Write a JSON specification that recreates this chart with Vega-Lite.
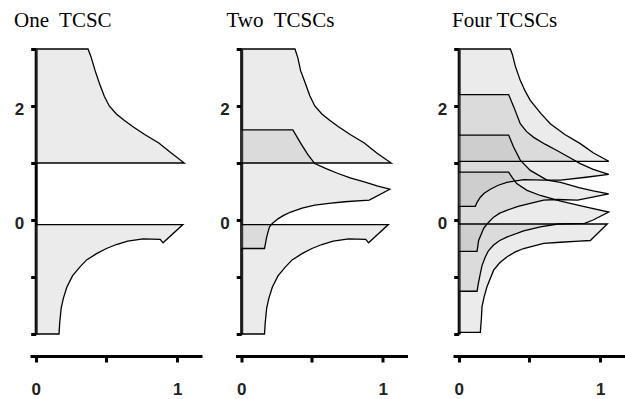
{
  "$schema": "https://vega.github.io/schema/vega-lite/v6.json",
  "background": "white",
  "padding": {"left": 14, "top": 9, "right": 0, "bottom": 2},
  "config": {
    "view": {"stroke": null},
    "axis": {
      "domainColor": "black", "domainWidth": 3, "tickColor": "black", "tickWidth": 3,
      "labelFont": "Liberation Sans", "labelFontWeight": "bold", "labelFontSize": 17, "labelColor": "#222",
      "grid": false, "title": null, "zindex": 1
    },
    "title": {"font": "Liberation Serif", "fontSize": 21, "fontWeight": "normal", "color": "black", "anchor": "start", "frame": "group", "baseline": "alphabetic", "offset": 15.5}
  },
  "datasets": {
    "p1": [
      {"r": "U", "i": 0, "x": 0, "y": 3}, {"r": "U", "i": 1, "x": 0.37, "y": 3}, {"r": "U", "i": 2, "x": 0.39, "y": 2.87},
      {"r": "U", "i": 3, "x": 0.42, "y": 2.62}, {"r": "U", "i": 4, "x": 0.45, "y": 2.4}, {"r": "U", "i": 5, "x": 0.485, "y": 2.17},
      {"r": "U", "i": 6, "x": 0.52, "y": 2.0}, {"r": "U", "i": 7, "x": 0.57, "y": 1.86}, {"r": "U", "i": 8, "x": 0.625, "y": 1.75},
      {"r": "U", "i": 9, "x": 0.685, "y": 1.64}, {"r": "U", "i": 10, "x": 0.77, "y": 1.5}, {"r": "U", "i": 11, "x": 0.87, "y": 1.35},
      {"r": "U", "i": 12, "x": 0.96, "y": 1.17}, {"r": "U", "i": 13, "x": 1.05, "y": 1.0}, {"r": "U", "i": 14, "x": 0, "y": 1.0},
      {"r": "L", "i": 0, "x": 0, "y": -0.08}, {"r": "L", "i": 1, "x": 1.04, "y": -0.08}, {"r": "L", "i": 2, "x": 0.9, "y": -0.4},
      {"r": "L", "i": 3, "x": 0.88, "y": -0.34}, {"r": "L", "i": 4, "x": 0.76, "y": -0.33}, {"r": "L", "i": 5, "x": 0.65, "y": -0.37},
      {"r": "L", "i": 6, "x": 0.57, "y": -0.43}, {"r": "L", "i": 7, "x": 0.5, "y": -0.5}, {"r": "L", "i": 8, "x": 0.43, "y": -0.59},
      {"r": "L", "i": 9, "x": 0.36, "y": -0.7}, {"r": "L", "i": 10, "x": 0.31, "y": -0.83}, {"r": "L", "i": 11, "x": 0.26, "y": -0.98},
      {"r": "L", "i": 12, "x": 0.22, "y": -1.18}, {"r": "L", "i": 13, "x": 0.195, "y": -1.38}, {"r": "L", "i": 14, "x": 0.18, "y": -1.55},
      {"r": "L", "i": 15, "x": 0.17, "y": -1.8}, {"r": "L", "i": 16, "x": 0.165, "y": -2.0}, {"r": "L", "i": 17, "x": 0, "y": -2.0}
    ],
    "p2": [
      {"r": "A", "i": 0, "x": 0, "y": 3}, {"r": "A", "i": 1, "x": 0.38, "y": 3}, {"r": "A", "i": 2, "x": 0.4, "y": 2.85},
      {"r": "A", "i": 3, "x": 0.42, "y": 2.62}, {"r": "A", "i": 4, "x": 0.45, "y": 2.42}, {"r": "A", "i": 5, "x": 0.485, "y": 2.18},
      {"r": "A", "i": 6, "x": 0.52, "y": 2.0}, {"r": "A", "i": 7, "x": 0.57, "y": 1.86}, {"r": "A", "i": 8, "x": 0.625, "y": 1.75},
      {"r": "A", "i": 9, "x": 0.685, "y": 1.64}, {"r": "A", "i": 10, "x": 0.77, "y": 1.5}, {"r": "A", "i": 11, "x": 0.87, "y": 1.35},
      {"r": "A", "i": 12, "x": 0.96, "y": 1.17}, {"r": "A", "i": 13, "x": 1.06, "y": 1.0}, {"r": "A", "i": 14, "x": 0, "y": 1.0},
      {"r": "B", "i": 0, "x": 0, "y": 1.58}, {"r": "B", "i": 1, "x": 0.365, "y": 1.58}, {"r": "B", "i": 2, "x": 0.42, "y": 1.35},
      {"r": "B", "i": 3, "x": 0.47, "y": 1.15}, {"r": "B", "i": 4, "x": 0.52, "y": 0.99}, {"r": "B", "i": 5, "x": 0.6, "y": 0.9},
      {"r": "B", "i": 6, "x": 0.68, "y": 0.82}, {"r": "B", "i": 7, "x": 0.77, "y": 0.74}, {"r": "B", "i": 8, "x": 0.87, "y": 0.67},
      {"r": "B", "i": 9, "x": 0.96, "y": 0.6}, {"r": "B", "i": 10, "x": 1.05, "y": 0.54}, {"r": "B", "i": 11, "x": 0.905, "y": 0.35},
      {"r": "B", "i": 12, "x": 0.73, "y": 0.32}, {"r": "B", "i": 13, "x": 0.62, "y": 0.29}, {"r": "B", "i": 14, "x": 0.52, "y": 0.26},
      {"r": "B", "i": 15, "x": 0.43, "y": 0.21}, {"r": "B", "i": 16, "x": 0.35, "y": 0.14}, {"r": "B", "i": 17, "x": 0.3, "y": 0.08},
      {"r": "B", "i": 18, "x": 0.26, "y": 0.02}, {"r": "B", "i": 19, "x": 0.22, "y": -0.06}, {"r": "B", "i": 20, "x": 0.2, "y": -0.12},
      {"r": "B", "i": 21, "x": 0.18, "y": -0.3}, {"r": "B", "i": 22, "x": 0.165, "y": -0.5}, {"r": "B", "i": 23, "x": 0, "y": -0.5},
      {"r": "C", "i": 0, "x": 0, "y": -0.08}, {"r": "C", "i": 1, "x": 1.04, "y": -0.08}, {"r": "C", "i": 2, "x": 0.9, "y": -0.4},
      {"r": "C", "i": 3, "x": 0.88, "y": -0.34}, {"r": "C", "i": 4, "x": 0.76, "y": -0.33}, {"r": "C", "i": 5, "x": 0.65, "y": -0.37},
      {"r": "C", "i": 6, "x": 0.57, "y": -0.43}, {"r": "C", "i": 7, "x": 0.5, "y": -0.5}, {"r": "C", "i": 8, "x": 0.43, "y": -0.59},
      {"r": "C", "i": 9, "x": 0.36, "y": -0.7}, {"r": "C", "i": 10, "x": 0.31, "y": -0.83}, {"r": "C", "i": 11, "x": 0.26, "y": -0.98},
      {"r": "C", "i": 12, "x": 0.22, "y": -1.18}, {"r": "C", "i": 13, "x": 0.195, "y": -1.38}, {"r": "C", "i": 14, "x": 0.18, "y": -1.55},
      {"r": "C", "i": 15, "x": 0.17, "y": -1.8}, {"r": "C", "i": 16, "x": 0.165, "y": -2.0}, {"r": "C", "i": 17, "x": 0, "y": -2.0}
    ],
    "p4": [
      {"r": "R1", "i": 0, "x": 0, "y": 3}, {"r": "R1", "i": 1, "x": 0.365, "y": 3}, {"r": "R1", "i": 2, "x": 0.38, "y": 2.9},
      {"r": "R1", "i": 3, "x": 0.4, "y": 2.7}, {"r": "R1", "i": 4, "x": 0.435, "y": 2.45}, {"r": "R1", "i": 5, "x": 0.47, "y": 2.26},
      {"r": "R1", "i": 6, "x": 0.506, "y": 2.1}, {"r": "R1", "i": 7, "x": 0.58, "y": 1.87}, {"r": "R1", "i": 8, "x": 0.647, "y": 1.69},
      {"r": "R1", "i": 9, "x": 0.75, "y": 1.5}, {"r": "R1", "i": 10, "x": 0.859, "y": 1.34}, {"r": "R1", "i": 11, "x": 0.95, "y": 1.18},
      {"r": "R1", "i": 12, "x": 1.06, "y": 1.03}, {"r": "R1", "i": 13, "x": 0, "y": 1.03},
      {"r": "R2", "i": 0, "x": 0, "y": 2.2}, {"r": "R2", "i": 1, "x": 0.353, "y": 2.2}, {"r": "R2", "i": 2, "x": 0.39, "y": 1.98},
      {"r": "R2", "i": 3, "x": 0.435, "y": 1.69}, {"r": "R2", "i": 4, "x": 0.48, "y": 1.55}, {"r": "R2", "i": 5, "x": 0.53, "y": 1.45},
      {"r": "R2", "i": 6, "x": 0.61, "y": 1.33}, {"r": "R2", "i": 7, "x": 0.694, "y": 1.22}, {"r": "R2", "i": 8, "x": 0.78, "y": 1.1},
      {"r": "R2", "i": 9, "x": 0.859, "y": 0.99}, {"r": "R2", "i": 10, "x": 0.95, "y": 0.89}, {"r": "R2", "i": 11, "x": 1.06, "y": 0.8},
      {"r": "R2", "i": 12, "x": 0.9, "y": 0.75}, {"r": "R2", "i": 13, "x": 0.72, "y": 0.7}, {"r": "R2", "i": 14, "x": 0.6, "y": 0.7},
      {"r": "R2", "i": 15, "x": 0.46, "y": 0.71}, {"r": "R2", "i": 16, "x": 0.34, "y": 0.66}, {"r": "R2", "i": 17, "x": 0.28, "y": 0.61},
      {"r": "R2", "i": 18, "x": 0.224, "y": 0.54}, {"r": "R2", "i": 19, "x": 0.18, "y": 0.47}, {"r": "R2", "i": 20, "x": 0.153, "y": 0.4},
      {"r": "R2", "i": 21, "x": 0.13, "y": 0.31}, {"r": "R2", "i": 22, "x": 0.118, "y": 0.24}, {"r": "R2", "i": 23, "x": 0, "y": 0.24},
      {"r": "R3", "i": 0, "x": 0, "y": 1.49}, {"r": "R3", "i": 1, "x": 0.353, "y": 1.49}, {"r": "R3", "i": 2, "x": 0.388, "y": 1.28},
      {"r": "R3", "i": 3, "x": 0.435, "y": 1.05}, {"r": "R3", "i": 4, "x": 0.506, "y": 0.87}, {"r": "R3", "i": 5, "x": 0.624, "y": 0.7},
      {"r": "R3", "i": 6, "x": 0.72, "y": 0.66}, {"r": "R3", "i": 7, "x": 0.85, "y": 0.57}, {"r": "R3", "i": 8, "x": 0.95, "y": 0.51},
      {"r": "R3", "i": 9, "x": 1.06, "y": 0.46}, {"r": "R3", "i": 10, "x": 0.84, "y": 0.35}, {"r": "R3", "i": 11, "x": 0.7, "y": 0.36},
      {"r": "R3", "i": 12, "x": 0.6, "y": 0.35}, {"r": "R3", "i": 13, "x": 0.506, "y": 0.29}, {"r": "R3", "i": 14, "x": 0.42, "y": 0.24},
      {"r": "R3", "i": 15, "x": 0.34, "y": 0.17}, {"r": "R3", "i": 16, "x": 0.29, "y": 0.12}, {"r": "R3", "i": 17, "x": 0.247, "y": 0.05},
      {"r": "R3", "i": 18, "x": 0.2, "y": -0.07}, {"r": "R3", "i": 19, "x": 0.176, "y": -0.15}, {"r": "R3", "i": 20, "x": 0.141, "y": -0.36},
      {"r": "R3", "i": 21, "x": 0.13, "y": -0.55}, {"r": "R3", "i": 22, "x": 0, "y": -0.55},
      {"r": "R4", "i": 0, "x": 0, "y": 0.84}, {"r": "R4", "i": 1, "x": 0.353, "y": 0.84}, {"r": "R4", "i": 2, "x": 0.38, "y": 0.74},
      {"r": "R4", "i": 3, "x": 0.41, "y": 0.64}, {"r": "R4", "i": 4, "x": 0.483, "y": 0.52}, {"r": "R4", "i": 5, "x": 0.577, "y": 0.43},
      {"r": "R4", "i": 6, "x": 0.72, "y": 0.33}, {"r": "R4", "i": 7, "x": 0.88, "y": 0.24}, {"r": "R4", "i": 8, "x": 1.06, "y": 0.14},
      {"r": "R4", "i": 9, "x": 0.95, "y": 0.0}, {"r": "R4", "i": 10, "x": 0.89, "y": -0.06}, {"r": "R4", "i": 11, "x": 0.7, "y": -0.07},
      {"r": "R4", "i": 12, "x": 0.577, "y": -0.12}, {"r": "R4", "i": 13, "x": 0.459, "y": -0.19}, {"r": "R4", "i": 14, "x": 0.34, "y": -0.3},
      {"r": "R4", "i": 15, "x": 0.29, "y": -0.36}, {"r": "R4", "i": 16, "x": 0.247, "y": -0.44}, {"r": "R4", "i": 17, "x": 0.21, "y": -0.54},
      {"r": "R4", "i": 18, "x": 0.188, "y": -0.65}, {"r": "R4", "i": 19, "x": 0.165, "y": -0.8}, {"r": "R4", "i": 20, "x": 0.153, "y": -0.94},
      {"r": "R4", "i": 21, "x": 0.14, "y": -1.1}, {"r": "R4", "i": 22, "x": 0.13, "y": -1.25}, {"r": "R4", "i": 23, "x": 0, "y": -1.25},
      {"r": "R5", "i": 0, "x": 0, "y": -0.07}, {"r": "R5", "i": 1, "x": 1.05, "y": -0.07}, {"r": "R5", "i": 2, "x": 0.93, "y": -0.36},
      {"r": "R5", "i": 3, "x": 0.85, "y": -0.37}, {"r": "R5", "i": 4, "x": 0.72, "y": -0.39}, {"r": "R5", "i": 5, "x": 0.6, "y": -0.41},
      {"r": "R5", "i": 6, "x": 0.459, "y": -0.5}, {"r": "R5", "i": 7, "x": 0.4, "y": -0.56}, {"r": "R5", "i": 8, "x": 0.34, "y": -0.65},
      {"r": "R5", "i": 9, "x": 0.29, "y": -0.75}, {"r": "R5", "i": 10, "x": 0.247, "y": -0.88}, {"r": "R5", "i": 11, "x": 0.2, "y": -1.17},
      {"r": "R5", "i": 12, "x": 0.18, "y": -1.35}, {"r": "R5", "i": 13, "x": 0.165, "y": -1.52}, {"r": "R5", "i": 14, "x": 0.16, "y": -1.75},
      {"r": "R5", "i": 15, "x": 0.153, "y": -1.97}, {"r": "R5", "i": 16, "x": 0, "y": -1.97}
    ]
  },
  "hconcat": [
    {
      "hconcat": [
        {
          "width": 172, "height": 285,
          "title": {"text": "One\u00a0 TCSC", "dx": -16},
          "encoding": {
            "x": {"field": "x", "type": "quantitative", "scale": {"domain": [-0.04, 1.175], "nice": false, "zero": false},
                  "axis": {"values": [0, 0.5, 1], "labelExpr": "datum.value == 0 ? '0' : datum.value == 1 ? '1' : ''", "offset": 22, "tickSize": 6, "labelPadding": 19, "labelFlush": false}},
            "y": {"field": "y", "type": "quantitative", "scale": {"domain": [-2, 3], "nice": false, "zero": false},
                  "axis": {"values": [-2, -1, 0, 1, 2, 3], "labelExpr": "datum.value == 0 ? '0' : datum.value == 2 ? '2' : ''", "offset": -5.7, "tickSize": 5, "labelPadding": 7, "labelOffset": 3, "labelBaseline": "middle", "labelFlush": false}},
            "detail": {"field": "r"},
            "order": {"field": "i", "type": "quantitative"}
          },
          "layer": [
            {"data": {"name": "p1"}, "mark": {"type": "line", "filled": true, "color": "#9a9a9a", "fillOpacity": 0.2, "strokeOpacity": 0}},
            {"data": {"name": "p1"}, "mark": {"type": "line", "color": "black", "strokeWidth": 1.3}}
          ]
        },
        {
          "width": 172, "height": 285,
          "title": {"text": "Two\u00a0 TCSCs", "dx": -9},
          "encoding": {
            "x": {"field": "x", "type": "quantitative", "scale": {"domain": [-0.04, 1.175], "nice": false, "zero": false},
                  "axis": {"values": [0, 0.5, 1], "labelExpr": "datum.value == 0 ? '0' : datum.value == 1 ? '1' : ''", "offset": 22, "tickSize": 6, "labelPadding": 19, "labelFlush": false}},
            "y": {"field": "y", "type": "quantitative", "scale": {"domain": [-2, 3], "nice": false, "zero": false},
                  "axis": {"values": [-2, -1, 0, 1, 2, 3], "labelExpr": "datum.value == 0 ? '0' : datum.value == 2 ? '2' : ''", "offset": -5.7, "tickSize": 5, "labelPadding": 7, "labelOffset": 3, "labelBaseline": "middle", "labelFlush": false}},
            "detail": {"field": "r"},
            "order": {"field": "i", "type": "quantitative"}
          },
          "layer": [
            {"data": {"name": "p2"}, "mark": {"type": "line", "filled": true, "color": "#9a9a9a", "fillOpacity": 0.2, "strokeOpacity": 0}},
            {"data": {"name": "p2"}, "mark": {"type": "line", "color": "black", "strokeWidth": 1.3}}
          ]
        }
      ],
      "spacing": 33.5,
      "bounds": "flush"
    },
    {
      "width": 172, "height": 285,
      "title": {"text": "Four TCSCs", "dx": -1},
      "encoding": {
        "x": {"field": "x", "type": "quantitative", "scale": {"domain": [-0.04, 1.175], "nice": false, "zero": false},
              "axis": {"values": [0, 0.5, 1], "labelExpr": "datum.value == 0 ? '0' : datum.value == 1 ? '1' : ''", "offset": 22, "tickSize": 6, "labelPadding": 19, "labelFlush": false}},
        "y": {"field": "y", "type": "quantitative", "scale": {"domain": [-2, 3], "nice": false, "zero": false},
              "axis": {"values": [-2, -1, 0, 1, 2, 3], "labelExpr": "datum.value == 0 ? '0' : datum.value == 2 ? '2' : ''", "offset": -5.7, "tickSize": 5, "labelPadding": 7, "labelOffset": 3, "labelBaseline": "middle", "labelFlush": false}},
        "detail": {"field": "r"},
        "order": {"field": "i", "type": "quantitative"}
      },
      "layer": [
        {"data": {"name": "p4"}, "mark": {"type": "line", "filled": true, "color": "#9a9a9a", "fillOpacity": 0.2, "strokeOpacity": 0}},
        {"data": {"name": "p4"}, "mark": {"type": "line", "color": "black", "strokeWidth": 1.3}}
      ]
    }
  ],
  "spacing": 29,
  "bounds": "full"
}
